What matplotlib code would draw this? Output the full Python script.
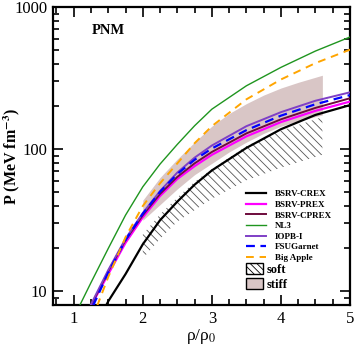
import matplotlib
matplotlib.use("Agg")
import matplotlib.pyplot as plt
import matplotlib.ticker as mticker
from matplotlib.patches import Patch

plt.rcParams['font.family'] = ['Liberation Serif', 'DejaVu Serif']
plt.rcParams['mathtext.fontset'] = 'stix'
plt.rcParams['hatch.linewidth'] = 0.6

# --- EoS curves (rho/rho0, P in MeV fm^-3) ---
x_crex = [1.45, 1.5, 1.75, 2.0, 2.25, 2.5, 2.75, 3.0, 3.5, 4.0, 4.5, 5.0]
p_crex = [7.6, 8.5, 13.2, 21.4, 31.6, 42.7, 56.2, 70.8, 102, 138, 174, 204]

x_prex = [1.25, 1.5, 1.75, 2.0, 2.25, 2.5, 2.75, 3.0, 3.5, 4.0, 4.5, 5.0]
p_prex = [7.9, 13.2, 21.9, 33.1, 46.8, 61.7, 75.9, 91.2, 123, 155, 186, 216]

x_cprex = [1.25, 1.5, 1.75, 2.0, 2.25, 2.5, 2.75, 3.0, 3.5, 4.0, 4.5, 5.0]
p_cprex = [7.9, 13.8, 22.9, 34.3, 48.4, 63.8, 79.4, 95.5, 129, 162, 195, 228]

x_nl3 = [1.09, 1.25, 1.5, 1.75, 2.0, 2.25, 2.5, 2.75, 3.0, 3.5, 4.0, 4.5, 5.0]
p_nl3 = [8.0, 11.5, 20.0, 34.3, 54.3, 78.5, 108, 146, 191, 279, 376, 490, 615]

x_iopb = [1.24, 1.5, 1.75, 2.0, 2.25, 2.5, 2.75, 3.0, 3.5, 4.0, 4.5, 5.0]
p_iopb = [7.9, 14.1, 23.4, 35.5, 50.7, 68.4, 87.1, 106, 145, 182, 219, 251]

x_fsu = [1.28, 1.5, 1.75, 2.0, 2.25, 2.5, 2.75, 3.0, 3.5, 4.0, 4.5, 5.0]
p_fsu = [7.9, 13.5, 22.9, 35.1, 50.1, 66.8, 84.1, 101, 136, 172, 207, 240]

x_bigapple = [1.34, 1.5, 1.75, 2.0, 2.25, 2.5, 2.75, 3.0, 3.5, 4.0, 4.5, 5.0]
p_bigapple = [7.9, 12.6, 24.0, 39.8, 57.5, 79.4, 110, 145, 224, 309, 403, 501]

# --- soft / stiff bands ---
x_soft = [2.0, 2.25, 2.5, 2.75, 3.0, 3.5, 4.0, 4.6]
soft_lo = [17.0, 23.4, 30.9, 37.2, 44.7, 60.3, 74.1, 91.2]
soft_hi = [25.1, 34.7, 45.7, 58.9, 72.4, 105, 135, 168]

x_stiff = [2.0, 2.25, 2.5, 2.75, 3.0, 3.25, 3.5, 3.75, 4.0, 4.25, 4.6]
stiff_lo = [31.6, 40.7, 52.5, 66.1, 79.4, 95.5, 112, 129, 145, 158, 174]
stiff_hi = [43.7, 63.1, 85.1, 112, 145, 178, 209, 240, 269, 295, 331]

fig = plt.figure(figsize=(3.56, 3.5), dpi=100)
ax = fig.add_axes([53/356, 45/350, 297/356, 298/350])

stiff_color = '#d9c6c6'
ax.fill_between(x_stiff, stiff_lo, stiff_hi, color=stiff_color, lw=0, zorder=1)
ax.fill_between(x_soft, soft_lo, soft_hi, facecolor='none', edgecolor='#555555',
                hatch='\\\\\\\\', lw=0, zorder=1.5)

curves = [
    (x_crex, p_crex, 'BSRV-CREX', dict(color='black', lw=1.6)),
    (x_prex, p_prex, 'BSRV-PREX', dict(color='#ff00ff', lw=1.6)),
    (x_cprex, p_cprex, 'BSRV-CPREX', dict(color='#6e0a3c', lw=1.4)),
    (x_nl3, p_nl3, 'NL3', dict(color='#1f951f', lw=1.0)),
    (x_iopb, p_iopb, 'IOPB-I', dict(color='#7f3fc6', lw=1.4)),
    (x_fsu, p_fsu, 'FSUGarnet', dict(color='#0000ff', lw=1.6, dashes=(4, 2.5))),
    (x_bigapple, p_bigapple, 'Big Apple', dict(color='#ffa500', lw=1.4, dashes=(4, 3))),
]
handles = []
for xs, ps, name, style in curves:
    ln, = ax.plot(xs, ps, label=name, zorder=3, **style)
    handles.append(ln)

ax.set_yscale('log')
ax.set_xlim(0.7, 5)
ax.set_ylim(8, 1000)
ax.set_yticks([10, 100, 1000])
ax.yaxis.set_major_formatter(mticker.FuncFormatter(lambda v, p: f'{v:g}'))
ax.yaxis.set_minor_formatter(mticker.NullFormatter())
ax.xaxis.set_major_locator(mticker.MultipleLocator(1))
ax.xaxis.set_minor_locator(mticker.MultipleLocator(0.25))

for s in ax.spines.values():
    s.set_linewidth(1.6)
ax.tick_params(which='both', direction='in', top=True, right=True, width=1.2)
ax.tick_params(which='major', length=7, labelsize=12, pad=4)
ax.tick_params(which='minor', length=4)

ax.set_xlabel('ρ/ρ$_0$', fontsize=12.5)
ax.xaxis.set_label_coords(0.5, -0.075)
ax.set_ylabel(r'P (MeV fm$^{\mathbf{-3}}$)', fontsize=11.5, fontweight='bold')
ax.yaxis.set_label_coords(-0.105, 0.5)

ax.text(0.13, 0.92, 'PNM', transform=ax.transAxes, fontsize=10.5,
        fontweight='bold', va='center', ha='left')

leg1 = ax.legend(handles=handles, loc='center', bbox_to_anchor=(0.795, 0.265),
                 frameon=False, borderpad=0, labelspacing=0.25, handlelength=2.2,
                 handletextpad=1.0, prop=dict(size=6.5, weight='bold'))
ax.add_artist(leg1)

patch_handles = [
    Patch(facecolor='white', edgecolor='black', hatch='\\\\\\\\\\', lw=1.0, label='soft'),
    Patch(facecolor=stiff_color, edgecolor='black', lw=1.0, label='stiff'),
]
ax.legend(handles=patch_handles, loc='center', bbox_to_anchor=(0.72, 0.094),
          frameon=False, borderpad=0, labelspacing=0.2, handlelength=1.4,
          handleheight=1.0, handletextpad=0.3, prop=dict(size=9, weight='bold'))

fig.savefig('out.png', dpi=100)
